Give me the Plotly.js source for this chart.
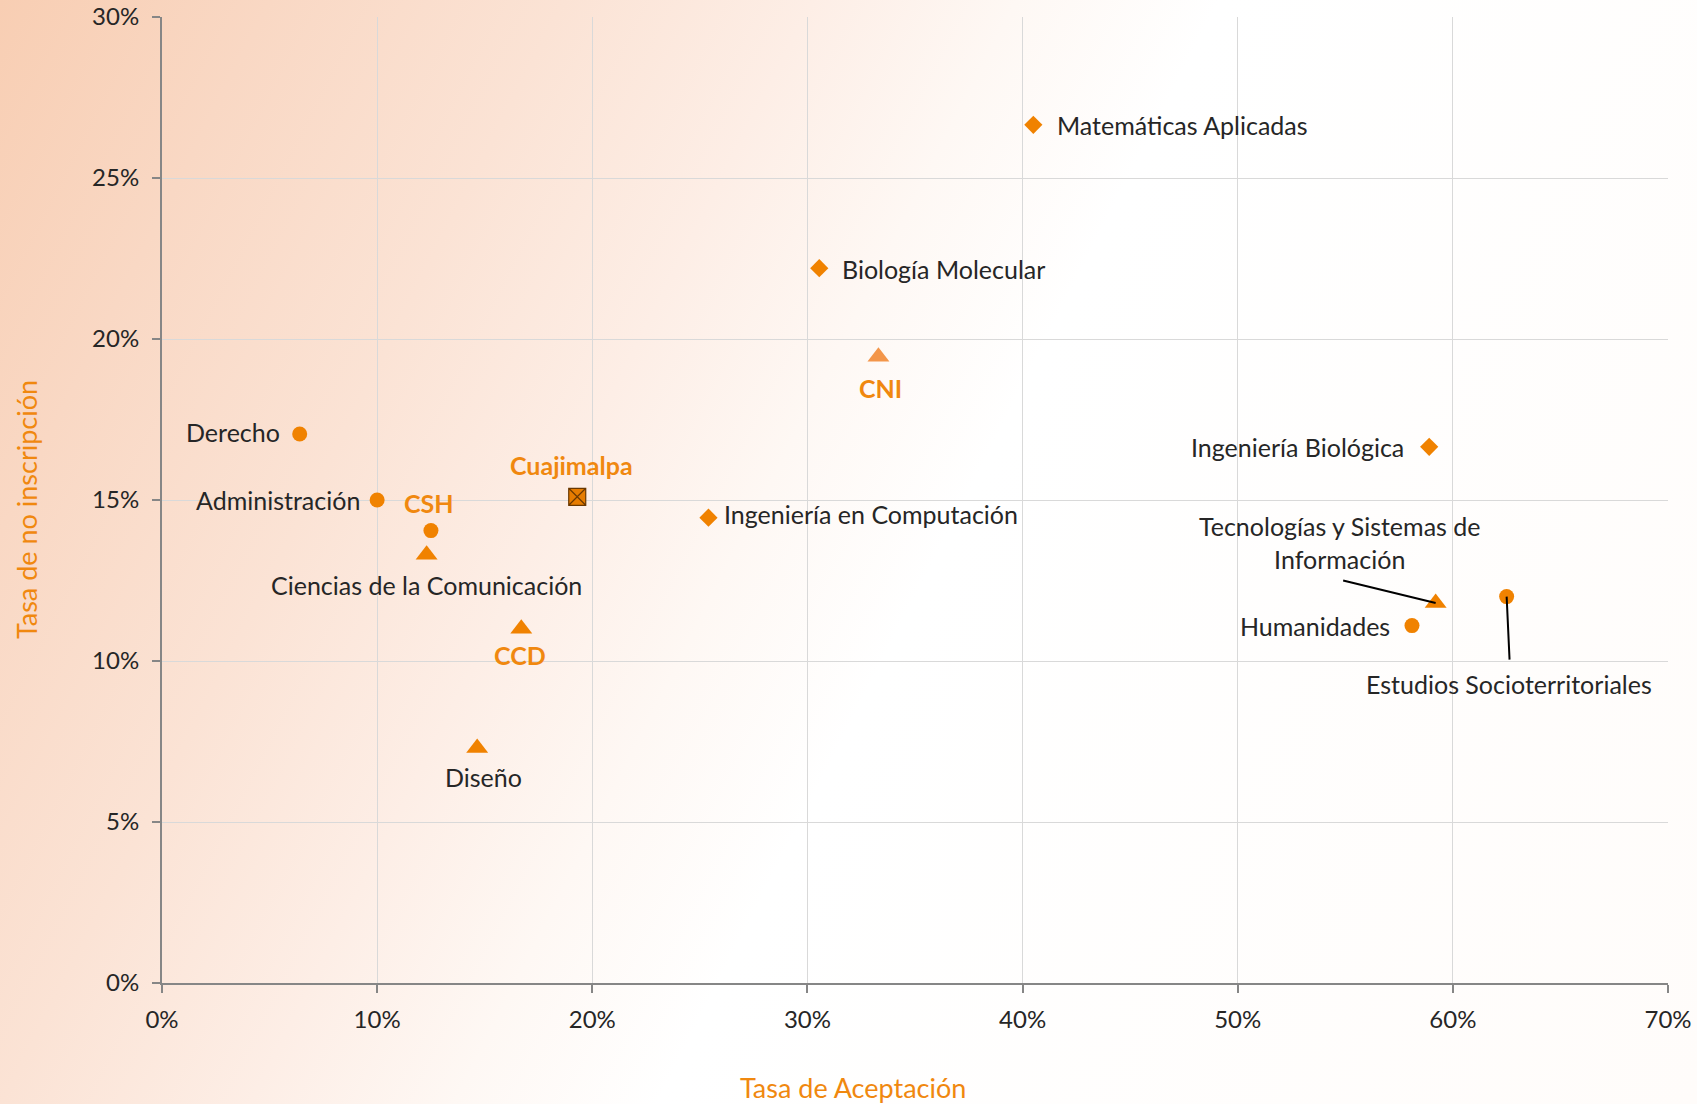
<!DOCTYPE html>
<html>
<head>
<meta charset="utf-8">
<script src="https://cdn.plot.ly/plotly-3.0.1.min.js"></script>
<style>
  html, body { margin: 0; padding: 0; }
  #chart {
    width: 1697px; height: 1104px;
    background: linear-gradient(117deg, #F8CEB3 0%, #F9D8C4 12%, #FBE3D5 25%, #FDEEE6 36%, #FEF8F4 45%, #FFFFFF 54%, #FFFCFA 100%);
  }
</style>
</head>
<body>
<div id="chart"></div>
<script>
// ---- Data (values in %) ----
const cshNames  = ['Derecho', 'Administración', 'Humanidades', 'Estudios Socioterritoriales'];
const cshAccept = [6.4, 10.0, 58.1, 62.5];
const cshNoEnr  = [17.05, 15.0, 11.1, 12.0];

const cniNames  = ['Matemáticas Aplicadas', 'Biología Molecular', 'Ingeniería Biológica', 'Ingeniería en Computación'];
const cniAccept = [40.5, 30.55, 58.9, 25.4];
const cniNoEnr  = [26.65, 22.2, 16.65, 14.45];

const ccdNames  = ['Ciencias de la Comunicación', 'Diseño', 'Tecnologías y Sistemas de<br>Información'];
const ccdAccept = [12.3, 14.65, 59.2];
const ccdNoEnr  = [13.3, 7.3, 11.8];

const divNames  = ['CSH', 'CCD', 'CNI'];
const divAccept = [12.5, 16.7, 33.3];
const divNoEnr  = [14.05, 11.0, 19.45];

const unitNames  = ['Cuajimalpa'];
const unitAccept = [19.3];
const unitNoEnr  = [15.1];

const xTickVals = [0, 10, 20, 30, 40, 50, 60, 70];
const xTickText = ['0%', '10%', '20%', '30%', '40%', '50%', '60%', '70%'];
const yTickVals = [0, 5, 10, 15, 20, 25, 30];
const yTickText = ['0%', '5%', '10%', '15%', '20%', '25%', '30%'];

const xTitle = 'Tasa de Aceptación';
const yTitle = 'Tasa de no inscripción';

// ---- Styles ----
const ORANGE = '#F08200';
const ORANGE_LIGHT = '#F3964A';
const LABEL_ORANGE = '#F0880F';
const TEXT = '#262626';
const FONT = 'Lato, "Open Sans", sans-serif';
const LABEL_SIZE = 25;

// label placement (pixel offsets from the marker)
const labelStyle = {
  'Derecho': {xa: 'right', dx: -18, dy: 2},
  'Administración': {xa: 'right', dx: -15, dy: 0},
  'Humanidades': {xa: 'right', dx: -20, dy: 0},
  'Estudios Socioterritoriales': {xa: 'center', dx: 2, dy: -87},
  'Matemáticas Aplicadas': {xa: 'left', dx: 22, dy: 0},
  'Biología Molecular': {xa: 'left', dx: 21, dy: -1},
  'Ingeniería Biológica': {xa: 'right', dx: -23, dy: 0},
  'Ingeniería en Computación': {xa: 'left', dx: 14, dy: 4},
  'Ciencias de la Comunicación': {xa: 'center', dx: 0, dy: -30},
  'Diseño': {xa: 'center', dx: 6, dy: -29},
  'Tecnologías y Sistemas de<br>Información': {xa: 'center', dx: -96, dy: 61},
  'CSH': {xa: 'center', dx: -2, dy: 28, bold: true},
  'CCD': {xa: 'center', dx: -1, dy: -26, bold: true},
  'CNI': {xa: 'center', dx: 2, dy: -31, bold: true},
  'Cuajimalpa': {xa: 'center', dx: -6, dy: 32, bold: true}
};
// leader lines (pixel offset of the line's far end from the marker)
const leaderStyle = {
  'Tecnologías y Sistemas de<br>Información': {ax: -94, ay: -23},
  'Estudios Socioterritoriales': {ax: 3, ay: 65}
};

function trace(x, y, names, symbol, color, size, line) {
  return {
    type: 'scatter', mode: 'markers', x: x, y: y, text: names,
    hoverinfo: 'text',
    marker: {symbol: symbol, color: color, size: size, line: line || {width: 0}},
    showlegend: false, cliponaxis: false
  };
}

const data = [
  trace(cshAccept, cshNoEnr, cshNames, 'circle', ORANGE, 15),
  trace(cniAccept, cniNoEnr, cniNames, 'diamond', ORANGE, 14),
  trace(ccdAccept, ccdNoEnr, ccdNames, 'triangle-up', ORANGE, 19),
  trace(divAccept.slice(0, 1), divNoEnr.slice(0, 1), divNames.slice(0, 1), 'circle', ORANGE, 15),
  trace(divAccept.slice(1, 2), divNoEnr.slice(1, 2), divNames.slice(1, 2), 'triangle-up', ORANGE, 19),
  trace(divAccept.slice(2), divNoEnr.slice(2), divNames.slice(2), 'triangle-up', ORANGE_LIGHT, 19),
  trace(unitAccept, unitNoEnr, unitNames, 'square-x', '#E67C00', 17, {color: '#6A3800', width: 1.2})
];

const annotations = [];
function addLabels(names, xs, ys) {
  names.forEach((n, i) => {
    const s = labelStyle[n];
    annotations.push({
      x: xs[i], y: ys[i], xref: 'x', yref: 'y', text: s.bold ? '<b>' + n + '</b>' : n,
      showarrow: false, xanchor: s.xa, yanchor: 'middle', xshift: s.dx, yshift: s.dy,
      align: 'center',
      font: {family: FONT, size: LABEL_SIZE, color: s.bold ? LABEL_ORANGE : TEXT}
    });
    const l = leaderStyle[n];
    if (l) {
      annotations.push({
        x: xs[i], y: ys[i], xref: 'x', yref: 'y', text: ' ',
        showarrow: true, arrowhead: 0, arrowwidth: 2, arrowcolor: '#000000',
        ax: l.ax, ay: l.ay, font: {size: 1}
      });
    }
  });
}
addLabels(cshNames, cshAccept, cshNoEnr);
addLabels(cniNames, cniAccept, cniNoEnr);
addLabels(ccdNames, ccdAccept, ccdNoEnr);
addLabels(divNames, divAccept, divNoEnr);
addLabels(unitNames, unitAccept, unitNoEnr);

// axis titles (placed like the original, off-centre)
annotations.push({
  xref: 'paper', yref: 'paper', x: 0.459, y: -0.108, text: xTitle, showarrow: false,
  xanchor: 'center', yanchor: 'middle',
  font: {family: FONT, size: 27, color: LABEL_ORANGE}
});
annotations.push({
  xref: 'paper', yref: 'paper', x: -0.09, y: 0.49, text: yTitle, showarrow: false,
  xanchor: 'center', yanchor: 'middle', textangle: -90,
  font: {family: FONT, size: 27, color: LABEL_ORANGE}
});

const axisCommon = {
  showline: true, linecolor: '#868686', linewidth: 2,
  showgrid: true, gridcolor: '#D9D9D9', gridwidth: 1,
  zeroline: false,
  ticks: 'outside', ticklen: 8, tickwidth: 2, tickcolor: '#868686',
  tickfont: {family: FONT, size: 24, color: TEXT},
  tickmode: 'array'
};

const layout = {
  width: 1697, height: 1104,
  paper_bgcolor: 'rgba(0,0,0,0)', plot_bgcolor: 'rgba(0,0,0,0)',
  margin: {l: 162, r: 29, t: 17, b: 121},
  font: {family: FONT, color: TEXT},
  xaxis: Object.assign({}, axisCommon, {
    range: [0, 70], tickvals: xTickVals, ticktext: xTickText, ticklabelstandoff: 6
  }),
  yaxis: Object.assign({}, axisCommon, {
    range: [0, 30], tickvals: yTickVals, ticktext: yTickText, ticklabelstandoff: 8
  }),
  annotations: annotations
};

Plotly.newPlot('chart', data, layout, {staticPlot: true, displayModeBar: false});
</script>
</body>
</html>
